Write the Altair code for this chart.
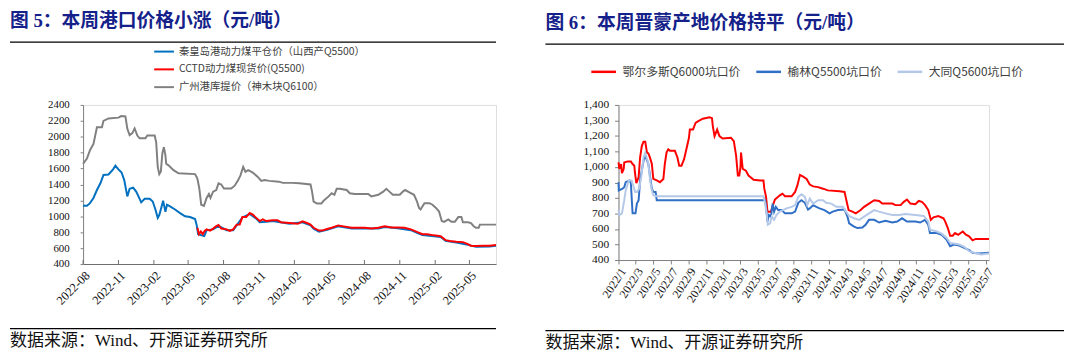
import altair as alt
import pandas as pd

# ---------------- Figure 5 (left) ----------------
left_title = "图 5：本周港口价格小涨（元/吨）"
left_names = ["秦皇岛港动力煤平仓价（山西产Q5500）", "CCTD动力煤现货价(Q5500)", "广州港库提价（神木块Q6100）"]
left_colors = ["#0070C0", "#FF0000", "#808080"]
left_tick_dates = ["2022-08-01", "2022-11-01", "2023-02-01", "2023-05-01", "2023-08-01", "2023-11-01",
                   "2024-02-01", "2024-05-01", "2024-08-01", "2024-11-01", "2025-02-01", "2025-05-01"]
left_y_ticks = [400, 600, 800, 1000, 1200, 1400, 1600, 1800, 2000, 2200, 2400]

gz_dates = ["2022-08-01", "2022-08-11", "2022-08-19", "2022-08-28", "2022-09-06", "2022-09-19", "2022-09-23",
            "2022-10-06", "2022-11-01", "2022-11-08", "2022-11-19", "2022-11-24", "2022-11-30", "2022-12-07",
            "2022-12-13", "2022-12-20", "2022-12-26", "2023-01-10", "2023-01-15", "2023-02-03", "2023-02-07",
            "2023-02-11", "2023-02-15", "2023-02-19", "2023-02-23", "2023-02-27", "2023-03-03", "2023-03-05",
            "2023-03-11", "2023-03-24", "2023-04-06", "2023-05-19", "2023-05-25", "2023-05-30", "2023-06-04",
            "2023-06-11", "2023-06-18", "2023-06-24", "2023-06-28", "2023-07-05", "2023-07-13", "2023-07-19",
            "2023-07-26", "2023-08-02", "2023-08-21", "2023-08-30", "2023-09-08", "2023-09-14", "2023-09-21",
            "2023-09-27", "2023-10-04", "2023-10-16", "2023-10-29", "2023-11-07", "2023-11-16", "2023-11-28",
            "2023-12-23", "2024-01-02", "2024-01-27", "2024-02-14", "2024-03-14", "2024-03-18", "2024-03-22",
            "2024-03-31", "2024-04-11", "2024-04-17", "2024-04-30", "2024-05-08", "2024-05-15", "2024-05-21",
            "2024-05-29", "2024-06-16", "2024-06-24", "2024-07-07", "2024-08-11", "2024-08-19", "2024-09-06",
            "2024-09-19", "2024-09-27", "2024-10-05", "2024-10-14", "2024-11-01", "2024-11-09", "2024-11-15",
            "2024-11-26", "2024-12-08", "2024-12-15", "2024-12-21", "2024-12-25", "2025-01-04", "2025-01-17",
            "2025-01-25", "2025-02-03", "2025-02-11", "2025-02-18", "2025-02-24", "2025-03-07", "2025-03-15",
            "2025-03-24", "2025-04-02", "2025-04-10", "2025-04-14", "2025-04-27", "2025-05-05", "2025-05-12",
            "2025-05-18", "2025-05-25", "2025-05-28", "2025-07-09"]
gz_vals = [1660, 1725, 1830, 1910, 2120, 2120, 2200, 2230, 2240, 2260, 2255, 2100, 2020, 2045,
           2105, 2015, 1980, 1980, 2015, 2015, 1930, 1620, 1530, 1560, 1790, 1870, 1765, 1660,
           1640, 1580, 1540, 1530, 1475, 1350, 1145, 1130, 1230, 1280, 1230, 1310, 1330, 1415,
           1400, 1350, 1350, 1385, 1455, 1515, 1620, 1560, 1580, 1550, 1495, 1445, 1455, 1445,
           1435, 1420, 1420, 1415, 1400, 1310, 1185, 1160, 1160, 1195, 1250, 1290, 1270, 1345,
           1345, 1330, 1290, 1280, 1280, 1250, 1270, 1310, 1345, 1310, 1270, 1270, 1310, 1330,
           1300, 1270, 1195, 1105, 1085, 1165, 1165, 1145, 1105, 1060, 940, 930, 960, 930,
           930, 990, 990, 925, 925, 915, 875, 855, 855, 895, 895]

qhd_dates = ["2022-08-01", "2022-08-11", "2022-08-19", "2022-08-28", "2022-09-06", "2022-09-15", "2022-09-23",
             "2022-10-06", "2022-10-18", "2022-10-24", "2022-11-01", "2022-11-09", "2022-11-16", "2022-11-20",
             "2022-11-24", "2022-11-30", "2022-12-09", "2022-12-17", "2022-12-23", "2022-12-30", "2023-01-08",
             "2023-01-21", "2023-01-29", "2023-02-05", "2023-02-11", "2023-02-15", "2023-02-19", "2023-02-25",
             "2023-02-28", "2023-03-03", "2023-03-07", "2023-03-15", "2023-03-28", "2023-04-10", "2023-04-23",
             "2023-05-06", "2023-05-19", "2023-05-23", "2023-05-27", "2023-06-05", "2023-06-12", "2023-06-18",
             "2023-07-05", "2023-07-19", "2023-08-09", "2023-08-26", "2023-09-04", "2023-09-19", "2023-10-08",
             "2023-10-25", "2023-11-03", "2023-11-20", "2023-12-07", "2024-01-19", "2024-02-22", "2024-03-14",
             "2024-03-22", "2024-04-05", "2024-04-26", "2024-05-25", "2024-06-29", "2024-08-02", "2024-09-06",
             "2024-09-23", "2024-10-26", "2024-11-30", "2024-12-17", "2024-12-30", "2025-01-29", "2025-02-15",
             "2025-02-28", "2025-03-28", "2025-04-27", "2025-05-18", "2025-06-22", "2025-07-09"]
qhd_vals = [1133, 1133, 1165, 1230, 1330, 1415, 1520, 1525, 1590, 1635, 1590, 1550, 1455, 1350,
            1250, 1345, 1360, 1310, 1250, 1175, 1220, 1220, 1185, 1085, 980, 1015, 1085, 1195,
            1125, 1055, 1145, 1125, 1085, 1040, 1000, 990, 965, 895, 775, 760, 750, 825,
            835, 880, 825, 825, 885, 985, 1030, 970, 925, 930, 940, 905, 925, 885,
            845, 805, 830, 875, 845, 845, 845, 865, 850, 825, 790, 765, 750, 740,
            690, 670, 640, 615, 620, 630]

cctd_dates = ["2023-05-25", "2023-05-29", "2023-06-03", "2023-06-08", "2023-06-13", "2023-06-18", "2023-06-27",
              "2023-07-05", "2023-07-13", "2023-07-19", "2023-07-26", "2023-08-09", "2023-08-17", "2023-08-26",
              "2023-09-04", "2023-09-12", "2023-09-19", "2023-09-29", "2023-10-08", "2023-10-16", "2023-10-25",
              "2023-11-03", "2023-11-11", "2023-11-20", "2023-12-07", "2023-12-19", "2023-12-28", "2024-01-19",
              "2024-02-10", "2024-02-22", "2024-03-05", "2024-03-14", "2024-03-22", "2024-04-05", "2024-04-13",
              "2024-04-26", "2024-05-08", "2024-05-25", "2024-06-12", "2024-06-29", "2024-07-15", "2024-08-02",
              "2024-08-19", "2024-09-06", "2024-09-23", "2024-10-10", "2024-10-26", "2024-11-13", "2024-11-30",
              "2024-12-17", "2024-12-30", "2025-01-12", "2025-01-29", "2025-02-15", "2025-02-28", "2025-03-11",
              "2025-03-28", "2025-04-14", "2025-04-27", "2025-05-05", "2025-05-18", "2025-06-07", "2025-06-22",
              "2025-07-09"]
cctd_vals = [855, 775, 810, 775, 815, 835, 820, 845, 875, 890, 845, 835, 815, 835,
             895, 895, 990, 990, 1040, 1020, 980, 940, 960, 940, 950, 950, 925, 915,
             905, 935, 915, 895, 855, 820, 820, 840, 855, 885, 870, 855, 855, 855,
             845, 855, 875, 860, 860, 855, 835, 800, 775, 775, 760, 750, 700, 690,
             680, 675, 650, 630, 625, 630, 630, 640]

# ---------------- Figure 6 (right) ----------------
right_title = "图 6：本周晋蒙产地价格持平（元/吨）"
right_names = ["鄂尔多斯Q6000坑口价", "榆林Q5500坑口价", "大同Q5600坑口价"]
right_colors = ["#FF0000", "#2F6FC6", "#B4C8E8"]
right_tick_dates = ["2022-01-01", "2022-03-01", "2022-05-01", "2022-07-01", "2022-09-01", "2022-11-01",
                    "2023-01-01", "2023-03-01", "2023-05-01", "2023-07-01", "2023-09-01", "2023-11-01",
                    "2024-01-01", "2024-03-01", "2024-05-01", "2024-07-01", "2024-09-01", "2024-11-01",
                    "2025-01-01", "2025-03-01", "2025-05-01", "2025-07-01"]
right_y_ticks = [400, 500, 600, 700, 800, 900, 1000, 1100, 1200, 1300, 1400]

ords_dates = ["2022-01-01", "2022-01-04", "2022-01-10", "2022-01-13", "2022-01-19", "2022-01-21", "2022-02-02",
              "2022-02-13", "2022-02-19", "2022-02-25", "2022-02-27", "2022-03-04", "2022-03-12", "2022-03-17",
              "2022-03-23", "2022-03-29", "2022-04-04", "2022-04-10", "2022-04-15", "2022-04-21", "2022-04-27",
              "2022-05-02", "2022-05-14", "2022-05-25", "2022-06-06", "2022-06-11", "2022-06-17", "2022-06-23",
              "2022-06-29", "2022-07-16", "2022-07-25", "2022-07-31", "2022-08-08", "2022-08-17", "2022-08-25",
              "2022-09-03", "2022-09-06", "2022-09-17", "2022-09-26", "2022-10-04", "2022-10-21", "2022-11-14",
              "2022-11-22", "2022-11-25", "2022-12-01", "2022-12-10", "2022-12-18", "2022-12-29", "2023-01-27",
              "2023-02-06", "2023-02-14", "2023-02-20", "2023-02-25", "2023-03-01", "2023-03-03", "2023-03-09",
              "2023-03-20", "2023-03-29", "2023-04-16", "2023-05-09", "2023-05-20", "2023-05-23", "2023-05-29",
              "2023-06-03", "2023-06-15", "2023-06-20", "2023-06-29", "2023-07-16", "2023-07-25", "2023-08-03",
              "2023-08-26", "2023-09-07", "2023-09-15", "2023-09-24", "2023-10-05", "2023-10-17", "2023-10-28",
              "2023-11-09", "2023-11-26", "2023-12-13", "2023-12-30", "2024-02-09", "2024-02-26", "2024-03-02",
              "2024-03-11", "2024-03-24", "2024-04-05", "2024-04-22", "2024-05-04", "2024-05-21", "2024-06-08",
              "2024-06-25", "2024-07-06", "2024-08-10", "2024-08-21", "2024-09-08", "2024-09-19", "2024-09-30",
              "2024-10-12", "2024-10-29", "2024-11-10", "2024-11-21", "2024-12-02", "2024-12-13", "2024-12-22",
              "2024-12-31", "2025-01-17", "2025-02-04", "2025-02-10", "2025-02-19", "2025-02-27", "2025-03-08",
              "2025-03-16", "2025-03-27", "2025-04-12", "2025-04-23", "2025-05-04", "2025-05-16", "2025-05-27",
              "2025-06-14", "2025-07-12"]
ords_vals = [1030, 987, 1019, 960, 987, 1029, 1036, 1036, 1019, 1008, 966, 896, 934, 1061,
             1135, 1163, 1163, 1093, 1087, 1057, 1019, 923, 913, 902, 923, 1019, 1093, 1114,
             1104, 1104, 1061, 1008, 1008, 1050, 1114, 1188, 1241, 1241, 1284, 1294, 1311, 1320,
             1315, 1262, 1199, 1241, 1199, 1184, 1188, 1167, 1072, 945, 945, 998, 1093, 987,
             976, 945, 917, 913, 913, 860, 807, 712, 712, 743, 790, 817, 828, 811,
             811, 839, 881, 949, 938, 923, 887, 875, 870, 860, 849, 843, 839, 796,
             722, 712, 701, 722, 743, 764, 786, 781, 764, 764, 754, 754, 775, 790,
             764, 760, 781, 775, 754, 722, 659, 675, 684, 669, 648, 606, 557, 557,
             574, 563, 584, 563, 553, 527, 536, 536, 536]

yl_dates = ["2022-01-01", "2022-01-02", "2022-01-15", "2022-01-21", "2022-01-26", "2022-02-08", "2022-02-13",
            "2022-02-16", "2022-02-19", "2022-03-01", "2022-03-06", "2022-03-12", "2022-03-17", "2022-03-23",
            "2022-03-29", "2022-04-04", "2022-04-15", "2022-04-21", "2022-04-27", "2022-05-02", "2022-05-10",
            "2022-05-14", "2023-05-26", "2023-05-29", "2023-06-03", "2023-06-08", "2023-06-15", "2023-06-21",
            "2023-06-26", "2023-07-02", "2023-07-10", "2023-07-22", "2023-08-03", "2023-08-26", "2023-09-07",
            "2023-09-18", "2023-09-29", "2023-10-11", "2023-10-22", "2023-10-28", "2023-11-09", "2023-11-20",
            "2023-12-01", "2023-12-18", "2024-01-05", "2024-01-16", "2024-02-03", "2024-02-26", "2024-03-07",
            "2024-03-13", "2024-03-30", "2024-04-11", "2024-04-28", "2024-05-09", "2024-05-21", "2024-06-08",
            "2024-06-25", "2024-07-17", "2024-08-10", "2024-08-27", "2024-09-13", "2024-09-30", "2024-10-29",
            "2024-11-15", "2024-12-02", "2024-12-13", "2024-12-19", "2025-01-12", "2025-01-29", "2025-02-15",
            "2025-02-27", "2025-03-12", "2025-03-31", "2025-04-17", "2025-05-04", "2025-05-16", "2025-06-08",
            "2025-07-12"]
yl_vals = [902, 849, 860, 870, 902, 913, 896, 796, 701, 701, 764, 786, 913, 976,
           1040, 1072, 1019, 934, 860, 839, 839, 786, 786, 743, 648, 690, 680, 764,
           712, 743, 722, 722, 701, 701, 712, 769, 786, 769, 726, 733, 754, 743,
           733, 722, 701, 712, 722, 726, 680, 637, 616, 606, 610, 627, 659, 659,
           642, 653, 642, 648, 669, 648, 648, 642, 659, 627, 574, 574, 563, 531,
           489, 500, 493, 478, 464, 447, 442, 447]

dt_dates = ["2022-01-01", "2022-01-04", "2022-01-13", "2022-01-21", "2022-01-26", "2022-02-06", "2022-02-16",
            "2022-02-21", "2022-02-28", "2022-03-06", "2022-03-14", "2022-03-21", "2022-03-29", "2022-04-04",
            "2022-04-15", "2022-04-21", "2022-04-27", "2022-05-02", "2022-05-14", "2023-05-20", "2023-05-26",
            "2023-06-01", "2023-06-04", "2023-06-12", "2023-06-18", "2023-06-26", "2023-07-04", "2023-07-16",
            "2023-07-27", "2023-08-08", "2023-08-26", "2023-09-07", "2023-09-18", "2023-09-29", "2023-10-11",
            "2023-10-19", "2023-10-28", "2023-11-09", "2023-11-26", "2023-12-13", "2023-12-24", "2024-01-11",
            "2024-01-28", "2024-02-20", "2024-03-02", "2024-03-13", "2024-03-30", "2024-04-17", "2024-05-04",
            "2024-05-21", "2024-06-08", "2024-06-25", "2024-07-17", "2024-08-10", "2024-09-02", "2024-09-25",
            "2024-10-29", "2024-11-27", "2024-12-13", "2024-12-19", "2025-01-12", "2025-01-29", "2025-02-15",
            "2025-02-27", "2025-03-12", "2025-03-31", "2025-04-17", "2025-05-04", "2025-05-22", "2025-06-14",
            "2025-07-12"]
dt_vals = [722, 690, 701, 786, 849, 913, 913, 881, 839, 839, 860, 934, 1061, 1093,
           1019, 913, 849, 817, 811, 811, 764, 690, 627, 637, 680, 659, 690, 712,
           722, 733, 743, 754, 807, 824, 807, 754, 796, 764, 786, 786, 769, 764,
           743, 743, 712, 684, 669, 659, 680, 701, 722, 712, 701, 690, 690, 697,
           690, 684, 648, 595, 584, 570, 542, 510, 506, 500, 485, 457, 447, 436,
           442]

# ---------------- styling ----------------
SERIF = "Liberation Serif, Times New Roman, Noto Sans CJK SC"
CJK = "Noto Sans CJK SC"
TITLE_FONT = "Liberation Serif, Noto Sans CJK SC"
NAVY = "#14218A"
AXIS_GRAY = "#808080"
SOURCE = "数据来源：Wind、开源证券研究所"

LW, LH = 418, 161
RW, RH = 375, 157
EXT_L = -74


def frame(d):
    return pd.DataFrame({"date": d})


def series_df(parts):
    rows = []
    for name, dates, vals in parts:
        for d, v in zip(dates, vals):
            rows.append({"date": d, "value": v, "series": name})
    return pd.DataFrame(rows)


def dt(s):
    y, m, d = [int(p) for p in s.split("-")]
    return alt.DateTime(year=y, month=m, date=d, utc=True)


def decorations(title, title_y, rule_top_y, rule_right, foot_rule_y, foot_text_y):
    one = pd.DataFrame({"t": [title], "s": [SOURCE]})
    t = alt.Chart(one).mark_text(align="left", baseline="middle", font=TITLE_FONT, fontSize=19,
                                 fontWeight="bold", color=NAVY).encode(
        text="t:N", x=alt.value(EXT_L), y=alt.value(title_y))
    r1 = alt.Chart(one).mark_rule(color="#000000", strokeWidth=1.3).encode(
        x=alt.value(EXT_L), x2=alt.value(rule_right), y=alt.value(rule_top_y))
    r2 = alt.Chart(one).mark_rule(color="#000000", strokeWidth=1.3).encode(
        x=alt.value(EXT_L), x2=alt.value(rule_right), y=alt.value(foot_rule_y))
    s = alt.Chart(one).mark_text(align="left", baseline="middle", font=SERIF, fontSize=17.2,
                                 color="#111111").encode(
        text="s:N", x=alt.value(EXT_L), y=alt.value(foot_text_y))
    return [t, r1, r2, s]


# ---- left chart ----
df_left = series_df([
    (left_names[2], gz_dates, gz_vals),
    (left_names[0], qhd_dates, qhd_vals),
    (left_names[1], cctd_dates, cctd_vals),
])

x_left = alt.X("date:T",
               scale=alt.Scale(type="utc", domain=[dt("2022-08-01"), dt("2025-07-09")], nice=False),
               axis=alt.Axis(values=[dt(s) for s in left_tick_dates],
                             labelExpr="utcFormat(datum.value, '%Y-%m')",
                             labelAngle=-45, labelAlign="right", labelBaseline="top",
                             labelFont=SERIF, labelFontSize=12.5, labelColor="#111111",
                             labelOverlap=False, labelBound=False,
                             ticks=False, tickSize=0, labelPadding=5, domainColor="#6e6e6e",
                             domainWidth=1.2, grid=False, title=None))

lines_left = alt.Chart(df_left).mark_line(strokeWidth=2).encode(
    x=x_left,
    y=alt.Y("value:Q", scale=alt.Scale(domain=[400, 2400], nice=False, zero=False),
            axis=alt.Axis(values=left_y_ticks, format="d", labelFont=SERIF, labelFontSize=11,
                          labelColor="#111111", tickSize=3, tickColor=AXIS_GRAY, domainColor=AXIS_GRAY,
                          labelPadding=11, grid=False, title=None)),
    color=alt.Color("series:N", scale=alt.Scale(domain=left_names, range=left_colors),
                    legend=alt.Legend(orient="none", legendX=71, legendY=-65, direction="vertical",
                                      title=None, symbolType="stroke", symbolSize=400,
                                      symbolStrokeWidth=2, labelFont=CJK, labelFontSize=10.5,
                                      labelColor="#404040", labelLimit=500, rowPadding=1,
                                      labelOffset=4, padding=0)),
)

ticks_left = alt.Chart(frame(left_tick_dates)).mark_rule(color="#6e6e6e", strokeWidth=1).encode(
    x=x_left, y=alt.value(LH - 4), y2=alt.value(LH))

left = alt.layer(lines_left, ticks_left,
                 *decorations(left_title, -84.5, -63.5, LW, LH + 65.5, LH + 78)).properties(
    width=LW, height=LH)

# ---- right chart ----
df_right = series_df([
    (right_names[0], ords_dates, ords_vals),
    (right_names[1], yl_dates, yl_vals),
    (right_names[2], dt_dates, dt_vals),
])

lines_right = alt.Chart(df_right).mark_line(strokeWidth=2).encode(
    x=alt.X("date:T",
            scale=alt.Scale(type="utc", domain=[dt("2022-01-01"), dt("2025-07-12")], nice=False),
            axis=alt.Axis(values=[dt(s) for s in right_tick_dates],
                          labelExpr="utcFormat(datum.value, '%Y/%-m')",
                          labelAngle=-57, labelAlign="right", labelBaseline="top",
                          labelFont=SERIF, labelFontSize=12, labelColor="#111111",
                          labelOverlap=False, labelBound=False,
                          tickSize=4, tickColor=AXIS_GRAY, labelPadding=2, domainColor=AXIS_GRAY,
                          grid=False, title=None)),
    y=alt.Y("value:Q", scale=alt.Scale(domain=[400, 1400], nice=False, zero=False),
            axis=alt.Axis(values=right_y_ticks, format=",d", labelFont=SERIF, labelFontSize=11.5,
                          labelColor="#111111", tickSize=4, tickColor=AXIS_GRAY, domainColor=AXIS_GRAY,
                          labelPadding=6, grid=False, title=None)),
    color=alt.Color("series:N", scale=alt.Scale(domain=right_names, range=right_colors),
                    legend=alt.Legend(orient="none", legendX=-29, legendY=-47.5, direction="horizontal",
                                      title=None, symbolType="stroke", symbolSize=625,
                                      symbolStrokeWidth=2.5, labelFont=CJK, labelFontSize=12,
                                      labelColor="#404040", labelLimit=500, columnPadding=10,
                                      labelOffset=5, padding=0)),
)

right = alt.layer(lines_right,
                  *decorations(right_title, -82.5, -61.5, RW + 76, RH + 71.5, RH + 84)).properties(
    width=RW, height=RH)

chart = alt.hconcat(left, right, spacing=43).resolve_scale(
    color="independent", x="independent", y="independent"
).resolve_legend(color="independent").properties(
    padding={"left": 0, "top": 2, "right": 0, "bottom": 0}
).configure_view(stroke=None).configure(background="white")

chart.save("out.html", embed_options={"renderer": "svg", "actions": False})
